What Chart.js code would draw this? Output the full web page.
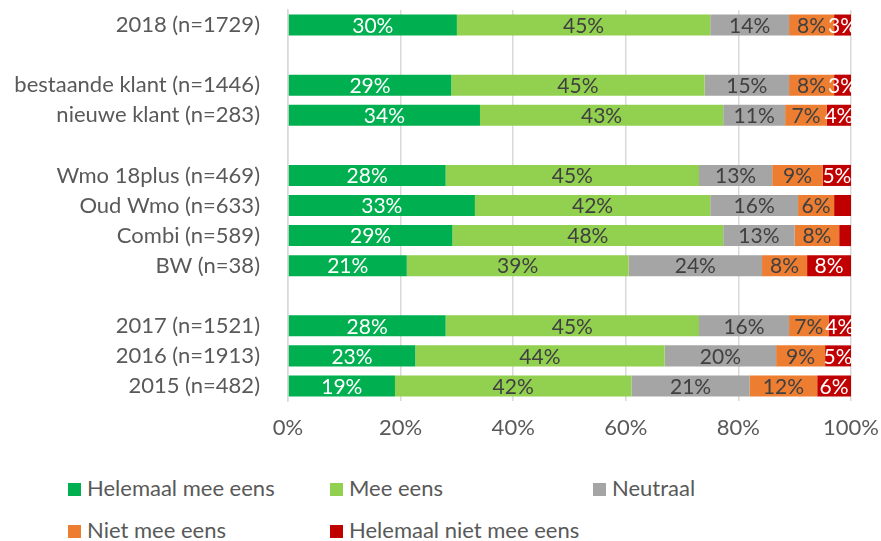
<!DOCTYPE html>
<html>
<head>
<meta charset="utf-8">
<script src="https://cdn.jsdelivr.net/npm/chart.js@4.4.1/dist/chart.umd.min.js"></script>
<style>
    html, body { margin: 0; padding: 0; background: #fff; }
    #wrap { position: relative; width: 881px; height: 541px; overflow: hidden; }
    #chart { position: absolute; left: 0; top: 0; }
    .lg { position: absolute; font-family: Lato, sans-serif; font-size: 22px; color: #595959; white-space: nowrap; }
    .lg span { display: inline-block; width: 13px; height: 13px; margin-right: 6px; vertical-align: 0px; }
</style>
</head>
<body>
<div id="wrap">
    <canvas id="chart" width="881" height="450"></canvas>
    <div id="legend"></div>
</div>
<script>
// categories (empty strings are the gaps between groups)
const categories = [
    '2018 (n=1729)', '',
    'bestaande klant (n=1446)', 'nieuwe klant (n=283)', '',
    'Wmo 18plus (n=469)', 'Oud Wmo (n=633)', 'Combi (n=589)', 'BW (n=38)', '',
    '2017 (n=1521)', '2016 (n=1913)', '2015 (n=482)'
];

const helemaalMeeEens = [30, null, 29, 34.1, null, 28, 33.2, 29.2, 21.1, null, 28, 22.6, 19];
const meeEens         = [45, null, 45, 43.2, null, 45, 41.8, 48.1, 39.4, null, 45, 44.3, 42];
const neutraal        = [14, null, 15, 11,   null, 13, 15.6, 12.7, 23.7, null, 16, 19.8, 21];
const nietMeeEens     = [8,  null, 8,  7.4,  null, 9,  6.4,  7.9,  8.0,  null, 7,  8.7,  12];
const helemaalNiet    = [3,  null, 3,  4.3,  null, 5,  3.0,  2.1,  7.8,  null, 4,  4.6,  6];

// red segments that carry no label in the original
const unlabeled = ['Oud Wmo (n=633)', 'Combi (n=589)'];

const xTicks = ['0%', '20%', '40%', '60%', '80%', '100%'];

const series = [
    { label: 'Helemaal mee eens', data: helemaalMeeEens, color: '#00B050', text: '#ffffff' },
    { label: 'Mee eens', data: meeEens, color: '#92D050', text: '#404040' },
    { label: 'Neutraal', data: neutraal, color: '#A5A5A5', text: '#404040' },
    { label: 'Niet mee eens', data: nietMeeEens, color: '#ED7D31', text: '#404040' },
    { label: 'Helemaal niet mee eens', data: helemaalNiet, color: '#C00000', text: '#ffffff' }
];

const FONT = 'Lato, sans-serif';

// draws the percentage inside each segment
const barLabels = {
    id: 'barLabels',
    afterDatasetsDraw(chart) {
        const ctx = chart.ctx;
        ctx.save();
        ctx.font = '21px ' + FONT;
        ctx.textAlign = 'center';
        ctx.textBaseline = 'middle';
        chart.data.datasets.forEach((ds, di) => {
            const meta = chart.getDatasetMeta(di);
            meta.data.forEach((bar, i) => {
                const v = ds.data[i];
                if (v == null) return;
                if (di === 4 && unlabeled.includes(categories[i])) return;
                ctx.fillStyle = series[di].text;
                ctx.fillText(Math.round(v) + '%', (bar.x + bar.base) / 2, bar.y + 1);
            });
        });
        ctx.restore();
    }
};

new Chart(document.getElementById('chart'), {
    type: 'bar',
    data: {
        labels: categories,
        datasets: series.map(s => ({
            label: s.label,
            data: s.data,
            backgroundColor: s.color,
            borderWidth: 0,
            barPercentage: 1,
            categoryPercentage: 0.7
        }))
    },
    options: {
        indexAxis: 'y',
        responsive: false,
        animation: false,
        layout: { padding: { top: 10, right: 30, left: 0, bottom: 0 } },
        plugins: {
            legend: { display: false },
            tooltip: { enabled: false }
        },
        scales: {
            x: {
                stacked: true,
                min: 0,
                max: 100,
                ticks: {
                    stepSize: 20,
                    padding: 14,
                    color: '#595959',
                    font: { family: FONT, size: 22 },
                    callback: (v) => xTicks[v / 20]
                },
                grid: { color: '#d9d9d9', lineWidth: 1.5, drawTicks: false },
                border: { display: false },
                afterFit: (scale) => {
                    scale.height = 49;
                    scale.paddingLeft = 0;
                    scale.paddingRight = 0;
                }
            },
            y: {
                stacked: true,
                ticks: {
                    padding: 20,
                    color: '#595959',
                    font: { family: FONT, size: 22 }
                },
                grid: { display: false },
                border: { color: '#d9d9d9', width: 1.5 },
                afterFit: (scale) => {
                    scale.width = 288;
                    scale.paddingTop = 0;
                    scale.paddingBottom = 0;
                }
            }
        }
    },
    plugins: [barLabels]
});

// legend laid out like the original (three columns, two rows)
const legendPos = [[68, 474], [330, 474], [593, 474], [68, 516], [330, 516]];
const legend = document.getElementById('legend');
series.forEach((s, i) => {
    const d = document.createElement('div');
    d.className = 'lg';
    d.style.left = legendPos[i][0] + 'px';
    d.style.top = legendPos[i][1] + 'px';
    d.innerHTML = '<span style="background:' + s.color + '"></span>' + s.label;
    legend.appendChild(d);
});
</script>
</body>
</html>
